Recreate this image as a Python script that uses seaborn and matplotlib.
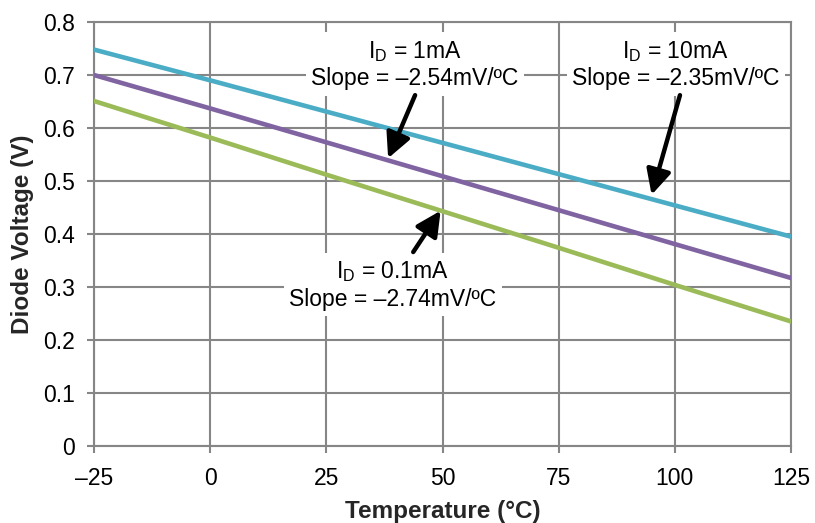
import matplotlib
import pandas as pd
import seaborn as sns

matplotlib.use("Agg")
import matplotlib.pyplot as plt
from matplotlib import font_manager

# temperature points read at each x tick
TEMPS = [-25, 0, 25, 50, 75, 100, 125]
V_10MA = [0.748, 0.690, 0.631, 0.572, 0.513, 0.454, 0.395]
V_1MA = [0.700, 0.637, 0.573, 0.509, 0.445, 0.381, 0.317]
V_01MA = [0.651, 0.582, 0.512, 0.443, 0.374, 0.304, 0.235]

SERIES = ["10mA", "1mA", "0.1mA"]
COLORS = ["#4BACC6", "#8064A2", "#9BBB59"]

X_TICKS = [-25, 0, 25, 50, 75, 100, 125]
X_LABELS = ["–25", "0", "25", "50", "75", "100", "125"]
Y_TICKS = [0, 0.1, 0.2, 0.3, 0.4, 0.5, 0.6, 0.7, 0.8]
Y_LABELS = ["0", "0.1", "0.2", "0.3", "0.4", "0.5", "0.6", "0.7", "0.8"]

# (text, text position, arrow tail, arrow head) in data units
NOTES = [
    ("I$_\\mathregular{D}$ = 1mA\nSlope = –2.54mV/ºC", (44.1, 0.720), (44.1, 0.662), (38.3, 0.543)),
    ("I$_\\mathregular{D}$ = 10mA\nSlope = –2.35mV/ºC", (100.2, 0.720), (101.1, 0.662), (95.0, 0.474)),
    ("I$_\\mathregular{D}$ = 0.1mA\nSlope = –2.74mV/ºC", (39.3, 0.304), (43.7, 0.366), (49.6, 0.444)),
]

GRID = "#868686"

sns.set_theme(style="white")
plt.rcParams["font.family"] = ["Liberation Sans", "DejaVu Sans"]
plt.rcParams["mathtext.fontset"] = "custom"
plt.rcParams["mathtext.rm"] = "Liberation Sans"
plt.rcParams["text.color"] = "black"

# x tick labels in the reference are a narrow face
names = {f.name for f in font_manager.fontManager.ttflist}
NARROW = "Liberation Sans Narrow" if "Liberation Sans Narrow" in names else "Liberation Sans"

data = pd.DataFrame({
    "Temperature": TEMPS * 3,
    "Voltage": V_10MA + V_1MA + V_01MA,
    "Current": [s for s in SERIES for _ in TEMPS],
})

fig = plt.figure(figsize=(8.15, 5.23), dpi=100)
ax = fig.add_axes([0.1153, 0.1472, 0.8553, 0.8107])

sns.lineplot(data=data, x="Temperature", y="Voltage", hue="Current",
             palette=COLORS, linewidth=3.3, legend=False, ax=ax, zorder=3)

ax.set_xlim(-25, 125)
ax.set_ylim(0, 0.8)
ax.set_xticks(X_TICKS, X_LABELS)
ax.set_yticks(Y_TICKS, Y_LABELS)
ax.grid(True, color=GRID, linewidth=1.5)
ax.set_axisbelow(True)
for spine in ax.spines.values():
    spine.set_color(GRID)
    spine.set_linewidth(1.5)
ax.tick_params(axis="both", direction="out", length=5, width=1.5, color=GRID,
               labelsize=16.5, labelcolor="black")
ax.tick_params(axis="x", pad=10, bottom=True)
ax.tick_params(axis="y", pad=9, left=True)
for lab in ax.get_xticklabels():
    lab.set_family([NARROW, "DejaVu Sans"])
    lab.set_fontsize(18 if NARROW != "Liberation Sans" else 16.5)

ax.set_xlabel("Temperature (°C)", fontsize=17.5, fontweight="bold", labelpad=7)
ax.set_ylabel("Diode Voltage (V)", fontsize=17.5, fontweight="bold", labelpad=6)

for text, pos, tail, head in NOTES:
    ax.text(pos[0], pos[1], text, ha="center", va="center", fontsize=16.5,
            linespacing=1.2, zorder=4,
            bbox=dict(facecolor="white", edgecolor="none", pad=4))
    ax.annotate("", xy=head, xytext=tail, zorder=5,
                arrowprops=dict(arrowstyle="-|>,head_length=0.5,head_width=0.25",
                                color="black", lw=3.2,
                                mutation_scale=30, shrinkA=0, shrinkB=0))

fig.savefig("out.png", dpi=100)
